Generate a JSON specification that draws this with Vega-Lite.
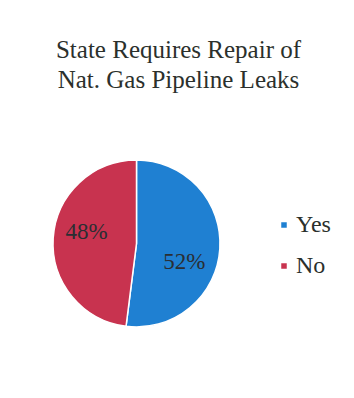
{
  "$schema": "https://vega.github.io/schema/vega-lite/v6.json",
  "width": 167,
  "height": 167,
  "autosize": "none",
  "padding": {"left": 53, "top": 160, "right": 134, "bottom": 71},
  "background": "white",
  "title": {
    "text": ["State Requires Repair of", "Nat. Gas Pipeline Leaks"],
    "anchor": "middle",
    "dx": 42,
    "offset": 64,
    "font": "Liberation Serif",
    "fontSize": 25,
    "fontWeight": "normal",
    "color": "#2b302c",
    "lineHeight": 30
  },
  "data": {
    "values": [
      {"answer": "Yes", "share": 52, "label": "52%", "ord": 1},
      {"answer": "No", "share": 48, "label": "48%", "ord": 2}
    ]
  },
  "encoding": {
    "theta": {"field": "share", "type": "quantitative", "stack": true},
    "order": {"field": "ord", "type": "quantitative"},
    "color": {
      "field": "answer",
      "type": "nominal",
      "sort": ["Yes", "No"],
      "scale": {"domain": ["Yes", "No"], "range": ["#1f80d2", "#c8334f"]},
      "legend": {
        "title": null,
        "orient": "none",
        "legendX": 219,
        "legendY": 53,
        "symbolType": "square",
        "symbolSize": 49,
        "labelFont": "Liberation Serif",
        "labelFontSize": 24,
        "labelColor": "#2b302c",
        "labelOffset": 0,
        "rowPadding": 17
      }
    }
  },
  "layer": [
    {
      "mark": {"type": "arc", "outerRadius": 83.5, "stroke": "white", "strokeWidth": 1.5}
    },
    {
      "mark": {"type": "text", "radius": 50, "dy": 15, "dx": -2, "font": "Liberation Serif", "fontSize": 23},
      "encoding": {
        "text": {"condition": {"test": "datum.answer === 'Yes'", "field": "label"}, "value": ""},
        "color": {"value": "#2a2e33"}
      }
    },
    {
      "mark": {"type": "text", "radius": 50, "dy": -8, "font": "Liberation Serif", "fontSize": 23},
      "encoding": {
        "text": {"condition": {"test": "datum.answer === 'No'", "field": "label"}, "value": ""},
        "color": {"value": "#2a2e33"}
      }
    }
  ],
  "config": {"view": {"stroke": null}}
}
